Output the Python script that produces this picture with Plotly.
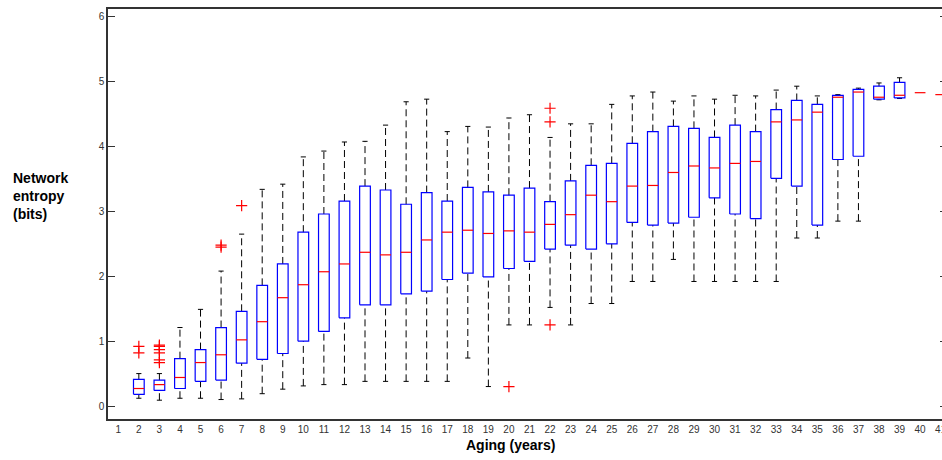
import plotly.graph_objects as go

# ---- data ----
ages = list(range(2, 42))
upper_whisker = [0.50, 0.50, 1.21, 1.49, 2.08, 2.65, 3.34, 3.42, 3.84, 3.93,
                 4.07, 4.08, 4.33, 4.69, 4.73, 4.23, 4.31, 4.30, 4.44, 4.49,
                 4.14, 4.35, 4.35, 4.65, 4.78, 4.84, 4.70, 4.78, 4.73, 4.79,
                 4.78, 4.87, 4.93, 4.78, 4.80, 4.90, 4.98, 5.06, 4.83, 4.80]
q3 = [0.41, 0.40, 0.73, 0.87, 1.21, 1.46, 1.86, 2.19, 2.68, 2.96,
      3.16, 3.39, 3.33, 3.11, 3.29, 3.16, 3.37, 3.30, 3.25, 3.36,
      3.15, 3.47, 3.71, 3.74, 4.05, 4.23, 4.31, 4.28, 4.14, 4.33,
      4.23, 4.57, 4.71, 4.65, 4.79, 4.88, 4.93, 4.99, 4.83, 4.80]
median = [0.27, 0.33, 0.44, 0.67, 0.79, 1.02, 1.30, 1.67, 1.87, 2.07,
          2.19, 2.37, 2.33, 2.37, 2.56, 2.68, 2.71, 2.66, 2.70, 2.68,
          2.80, 2.95, 3.25, 3.15, 3.39, 3.40, 3.60, 3.70, 3.67, 3.74,
          3.77, 4.38, 4.41, 4.53, 4.76, 4.84, 4.76, 4.79, 4.83, 4.80]
q1 = [0.18, 0.24, 0.27, 0.38, 0.40, 0.66, 0.72, 0.81, 1.00, 1.15,
      1.36, 1.56, 1.56, 1.73, 1.77, 1.95, 2.05, 1.99, 2.12, 2.23,
      2.42, 2.48, 2.42, 2.50, 2.83, 2.79, 2.82, 2.91, 3.21, 2.96,
      2.89, 3.51, 3.39, 2.79, 3.80, 3.85, 4.73, 4.75, 4.83, 4.80]
lower_whisker = [0.12, 0.09, 0.12, 0.12, 0.10, 0.11, 0.19, 0.26, 0.31, 0.33,
                 0.33, 0.38, 0.38, 0.38, 0.38, 0.38, 0.74, 0.30, 1.25, 1.25,
                 1.52, 1.25, 1.58, 1.58, 1.92, 1.92, 2.26, 1.92, 1.92, 1.92,
                 1.92, 1.92, 2.59, 2.59, 2.85, 2.85, 4.72, 4.74, 4.83, 4.80]
outlier_age = [2, 2, 3, 3, 3, 3, 3, 3, 6, 6, 7, 20, 22, 22, 22]
outlier_val = [0.92, 0.82, 0.94, 0.92, 0.87, 0.82, 0.71, 0.67, 2.48, 2.45,
               3.09, 0.30, 4.59, 4.38, 1.25]
tick_labels = [str(a) for a in range(1, 42)]
y_ticks = [0, 1, 2, 3, 4, 5, 6]

BOX_HW = 0.26
CAP_HW = 0.125

wx, wy, cx, cy, bx, by, mx, my = [], [], [], [], [], [], [], []
for a, hi, t, m, b, lo in zip(ages, upper_whisker, q3, median, q1, lower_whisker):
    single = hi == lo
    if not single:
        if hi > t:
            wx += [a, a, None]; wy += [t, hi, None]
        if lo < b:
            wx += [a, a, None]; wy += [lo, b, None]
        cx += [a - CAP_HW, a + CAP_HW, None, a - CAP_HW, a + CAP_HW, None]
        cy += [hi, hi, None, lo, lo, None]
        bx += [a - BOX_HW, a + BOX_HW, a + BOX_HW, a - BOX_HW, a - BOX_HW, None]
        by += [b, b, t, t, b, None]
    mx += [a - BOX_HW, a + BOX_HW, None]
    my += [m, m, None]

fig = go.Figure()
fig.add_trace(go.Scatter(x=wx, y=wy, mode="lines",
                         line=dict(color="black", width=1, dash="7px,4px"),
                         hoverinfo="skip", showlegend=False))
fig.add_trace(go.Scatter(x=cx, y=cy, mode="lines",
                         line=dict(color="black", width=1),
                         hoverinfo="skip", showlegend=False))
fig.add_trace(go.Scatter(x=bx, y=by, mode="lines",
                         line=dict(color="#0000ff", width=1.2),
                         hoverinfo="skip", showlegend=False))
fig.add_trace(go.Scatter(x=mx, y=my, mode="lines",
                         line=dict(color="#ff0000", width=1.2),
                         hoverinfo="skip", showlegend=False))
fig.add_trace(go.Scatter(x=outlier_age, y=outlier_val, mode="markers",
                         marker=dict(symbol="cross-thin", size=8,
                                     line=dict(color="#ff0000", width=1.2)),
                         hoverinfo="skip", showlegend=False))
# invisible trace so the right-hand (mirrored) tick stubs are drawn
fig.add_trace(go.Scatter(x=[None], y=[None], yaxis="y2", mode="lines",
                         hoverinfo="skip", showlegend=False))

W, H = 942, 460
L, R, T, B = 108, 0, 9, 41
pw = W - L - R
ph = H - T - B
yr = [-0.2, 6.12]

fig.update_layout(
    width=W, height=H,
    margin=dict(l=L, r=R, t=T, b=B, autoexpand=False),
    paper_bgcolor="white", plot_bgcolor="white",
    font=dict(family="Liberation Sans, Arial, sans-serif", color="#333333", size=10),
    xaxis=dict(range=[0.5, 0.5 + pw / 20.56], automargin=False,
               tickmode="array", tickvals=list(range(1, 42)), ticktext=tick_labels,
               showgrid=False, zeroline=False, showline=True, mirror=True,
               linecolor="#333333", linewidth=1.5, ticks="",
               ticklabeloverflow="allow",
               tickfont=dict(size=10, color="#333333")),
    yaxis=dict(range=yr, tickvals=y_ticks, automargin=False,
               showgrid=False, zeroline=False, showline=True, mirror=False,
               linecolor="#333333", linewidth=1.5, ticks="inside", ticklen=7,
               tickcolor="#333333", tickfont=dict(size=10, color="#333333")),
    yaxis2=dict(range=yr, tickvals=y_ticks, overlaying="y", side="right",
                automargin=False,
                showgrid=False, zeroline=False, showline=False,
                ticks="inside", ticklen=2, tickcolor="#333333",
                showticklabels=False),
    annotations=[
        dict(text="<b>Network<br>entropy<br>(bits)</b>", xref="paper", yref="paper",
             x=(11 - L) / pw, y=(H - B - 196) / ph, xanchor="left", yanchor="middle",
             align="left", showarrow=False,
             font=dict(size=14, color="black", family="Liberation Sans, Arial, sans-serif")),
        dict(text="<b>Aging (years)</b>", xref="paper", yref="paper",
             x=(510 - L) / pw, y=-(445 - (H - B)) / ph, xanchor="center", yanchor="middle",
             showarrow=False,
             font=dict(size=14, color="black", family="Liberation Sans, Arial, sans-serif")),
    ],
)

fig.write_html("out.html")
